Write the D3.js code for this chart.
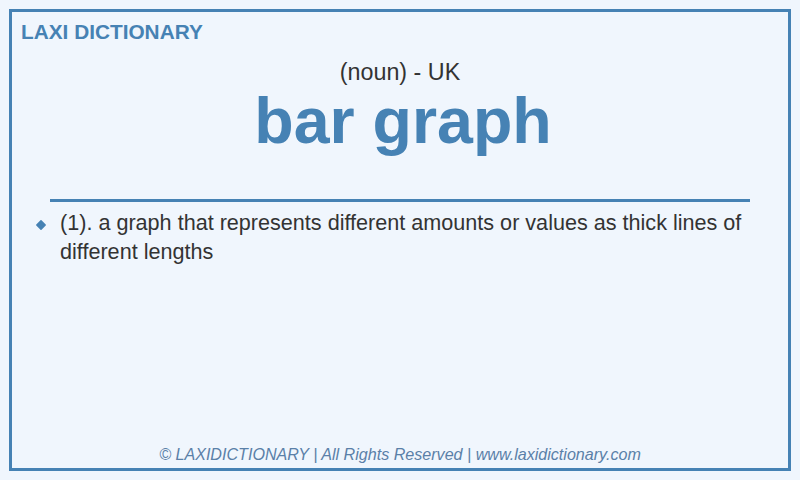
<!DOCTYPE html>
<html>
<head>
<meta charset="utf-8">
<script src="https://cdn.jsdelivr.net/npm/d3@7"></script>
<style>
  html, body { margin: 0; padding: 0; background: #f0f6fd; }
  svg { display: block; font-family: "Liberation Sans", Arial, sans-serif; }
</style>
</head>
<body>
<div id="card"></div>
<script>
var brand = "LAXI DICTIONARY";
var wordClass = "(noun) - UK";
var headword = "bar graph";
var definitions = [
	["(1). a graph that represents different amounts or values as thick lines of",
	 "different lengths"]
];
var footer = "\u00a9 LAXIDICTIONARY | All Rights Reserved | www.laxidictionary.com";

var width = 800, height = 480;
var blue = "#4682b4";

var svg = d3.select("#card").append("svg")
	.attr("width", width)
	.attr("height", height);

svg.append("rect")
	.attr("width", width)
	.attr("height", height)
	.attr("fill", "#f0f6fd");

// frame
svg.append("rect")
	.attr("x", 10.5).attr("y", 10.5)
	.attr("width", width - 21).attr("height", height - 21)
	.attr("fill", "none")
	.attr("stroke", blue)
	.attr("stroke-width", 3);

svg.append("text")
	.attr("x", 21).attr("y", 39)
	.attr("font-size", 20.8)
	.attr("font-weight", "bold")
	.attr("fill", blue)
	.text(brand);

svg.append("text")
	.attr("x", width / 2).attr("y", 80)
	.attr("text-anchor", "middle")
	.attr("font-size", 23.3)
	.attr("fill", "#333")
	.text(wordClass);

svg.append("text")
	.attr("x", width / 2 + 3).attr("y", 143)
	.attr("text-anchor", "middle")
	.attr("font-size", 64.5)
	.attr("font-weight", "bold")
	.attr("fill", blue)
	.text(headword);

svg.append("line")
	.attr("x1", 50).attr("x2", 750)
	.attr("y1", 200.5).attr("y2", 200.5)
	.attr("stroke", blue)
	.attr("stroke-width", 3);

// definitions, one bullet each
var lineH = 29;
var defs = svg.selectAll(".def")
	.data(definitions).enter()
	.append("g")
	.attr("class", "def")
	.attr("transform", (d, i) => `translate(0, ${230 + i * (d.length * lineH + 10)})`);

defs.append("path")
	.attr("d", d3.symbol(d3.symbolDiamond2, 45))
	.attr("transform", "translate(41, -5)")
	.attr("fill", blue)
	.attr("stroke", blue)
	.attr("stroke-width", 1.5)
	.attr("stroke-linejoin", "round");

defs.selectAll("text")
	.data(d => d).enter()
	.append("text")
	.attr("x", 60)
	.attr("y", (d, i) => i * lineH)
	.attr("font-size", 21.6)
	.attr("fill", "#333")
	.text(d => d);

svg.append("text")
	.attr("x", width / 2).attr("y", 460)
	.attr("text-anchor", "middle")
	.attr("font-size", 16.1)
	.attr("font-style", "italic")
	.attr("fill", "#5a80a8")
	.text(footer);
</script>
</body>
</html>
